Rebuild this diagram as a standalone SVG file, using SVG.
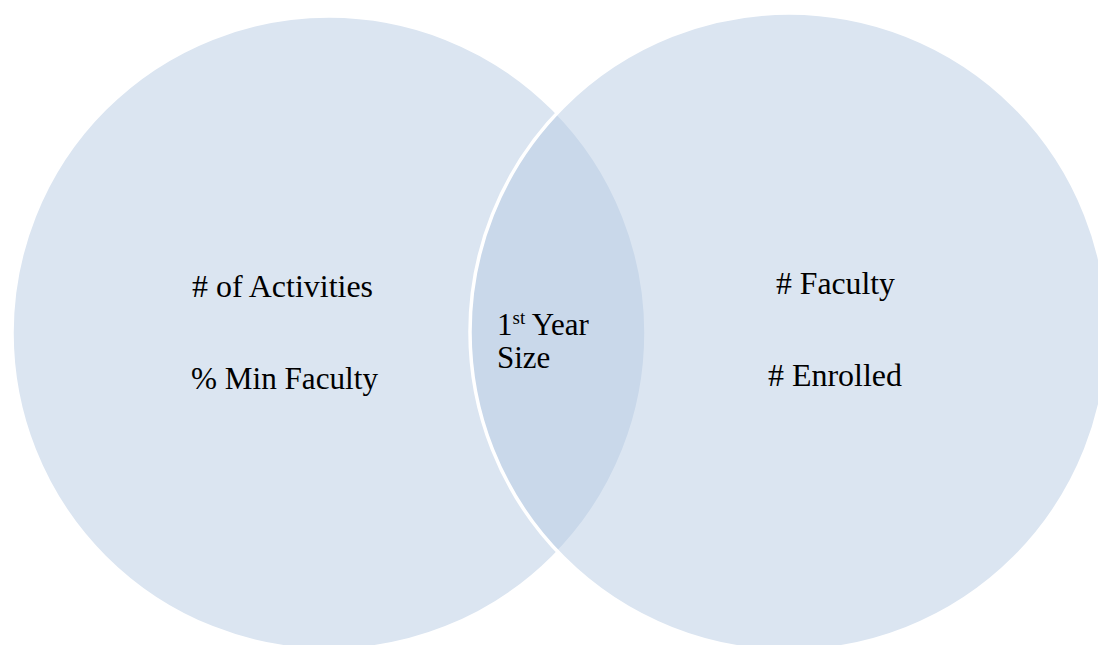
<svg xmlns="http://www.w3.org/2000/svg" width="1098" height="645" viewBox="0 0 1098 645">
  <style>
    .set { fill: #b7cbe3; fill-opacity: 0.5; stroke: #ffffff; stroke-width: 3.5; }
    .label { font-family: "Liberation Serif", "Times New Roman", serif; font-size: 31px; fill: #000000; }
    .sup { font-size: 19px; }
  </style>
  <rect width="1098" height="645" fill="#ffffff"/>
  <g id="set-left">
    <circle class="set" cx="329" cy="333" r="317"/>
  </g>
  <g id="set-right">
    <circle class="set" cx="789" cy="332" r="319"/>
  </g>
  <g id="connectors"/>
  <g id="label-left">
    <text class="label" x="192" y="297" textLength="181" lengthAdjust="spacingAndGlyphs"># of Activities</text>
    <text class="label" x="191" y="389" textLength="187" lengthAdjust="spacingAndGlyphs">%  Min Faculty</text>
  </g>
  <g id="label-right">
    <text class="label" x="776" y="294" textLength="119" lengthAdjust="spacingAndGlyphs"># Faculty</text>
    <text class="label" x="768" y="386" textLength="134" lengthAdjust="spacingAndGlyphs"># Enrolled</text>
  </g>
  <g id="label-overlap">
    <text class="label" x="497" y="335">1<tspan class="sup" dy="-11">st</tspan><tspan dy="11"> Year</tspan></text>
    <text class="label" x="497" y="368">Size</text>
  </g>
</svg>
